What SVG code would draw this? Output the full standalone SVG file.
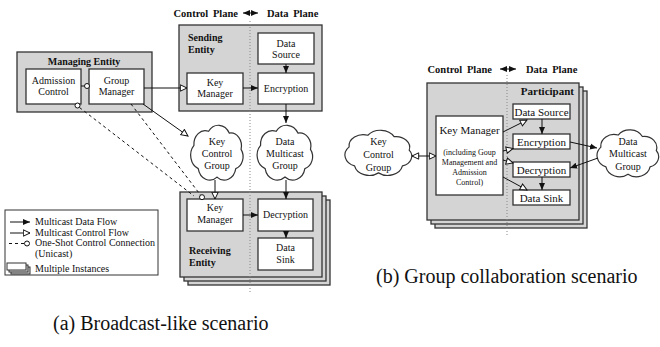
<svg xmlns="http://www.w3.org/2000/svg" width="660" height="347" viewBox="0 0 660 347">
<defs>
<marker id="fa" markerUnits="userSpaceOnUse" markerWidth="8" markerHeight="8" refX="7" refY="3.5" orient="auto-start-reverse">
<path d="M0,0.5 L7,3.5 L0,6.5 z" fill="#111"/>
</marker>
<marker id="oa" markerUnits="userSpaceOnUse" markerWidth="9" markerHeight="9" refX="7.5" refY="4" orient="auto-start-reverse">
<path d="M0.8,0.8 L7.5,4 L0.8,7.2 z" fill="#fff" stroke="#111" stroke-width="1"/>
</marker>
<path id="cloudshape" vector-effect="non-scaling-stroke" fill="#fff" stroke="#333" stroke-width="1.2" d="M -22.6,-6.5 A 11 11 0 0 1 -8.2,-17.9 A 12 12 0 0 1 12,-16.5 A 10.5 10.5 0 0 1 23.6,-3.3 A 10 10 0 0 1 18.4,12.2 A 11.5 11.5 0 0 1 0,19 A 11.5 11.5 0 0 1 -18.4,12.2 A 11.5 11.5 0 0 1 -22.6,-6.5 Z"/>
</defs>

<!-- Headers -->
<g id="header-a" fill="#111">
<text font-family="Liberation Serif" font-size="10.5" font-weight="bold" word-spacing="2" x="238" y="16.5" text-anchor="end">Control Plane</text>
<text font-family="Liberation Serif" font-size="10.5" font-weight="bold" word-spacing="2" x="267" y="16.5">Data Plane</text>
</g>
<g id="header-b" fill="#111">
<text font-family="Liberation Serif" font-size="10.5" font-weight="bold" word-spacing="2" x="492" y="72.5" text-anchor="end">Control Plane</text>
<text font-family="Liberation Serif" font-size="10.5" font-weight="bold" word-spacing="2" x="526" y="72.5">Data Plane</text>
</g>

<!-- (a) Broadcast-like scenario -->
<g id="managing-entity">
<rect x="17" y="52" width="135" height="60" fill="#d4d4d4" stroke="#333" stroke-width="1.3"/>
<text font-family="Liberation Serif" font-size="10" font-weight="bold" fill="#111" x="84" y="65" text-anchor="middle">Managing Entity</text>
</g>
<g id="admission-control">
<rect x="26" y="69" width="55" height="35" fill="#fff" stroke="#333" stroke-width="1.3"/>
<text font-family="Liberation Serif" font-size="10" fill="#111" text-anchor="middle" x="53.5" y="84">Admission</text>
<text font-family="Liberation Serif" font-size="10" fill="#111" text-anchor="middle" x="53.5" y="95">Control</text>
</g>
<g id="group-manager">
<rect x="89" y="69" width="55" height="35" fill="#fff" stroke="#333" stroke-width="1.3"/>
<text font-family="Liberation Serif" font-size="10" fill="#111" text-anchor="middle" x="116.5" y="84">Group</text>
<text font-family="Liberation Serif" font-size="10" fill="#111" text-anchor="middle" x="116.5" y="95">Manager</text>
</g>

<g id="sending-entity">
<rect x="179" y="25" width="143" height="86" fill="#d4d4d4" stroke="#333" stroke-width="1.3"/>
<text font-family="Liberation Serif" font-size="10" font-weight="bold" fill="#111" x="188" y="41">Sending</text>
<text font-family="Liberation Serif" font-size="10" font-weight="bold" fill="#111" x="188" y="53">Entity</text>
</g>
<g id="key-manager-send">
<rect x="187" y="73" width="56" height="31" fill="#fff" stroke="#333" stroke-width="1.3"/>
<text font-family="Liberation Serif" font-size="10" fill="#111" text-anchor="middle" x="215" y="86">Key</text>
<text font-family="Liberation Serif" font-size="10" fill="#111" text-anchor="middle" x="215" y="97">Manager</text>
</g>
<g id="data-source-a">
<rect x="258" y="33" width="56" height="31" fill="#fff" stroke="#333" stroke-width="1.3"/>
<text font-family="Liberation Serif" font-size="10" fill="#111" text-anchor="middle" x="286" y="47">Data</text>
<text font-family="Liberation Serif" font-size="10" fill="#111" text-anchor="middle" x="286" y="58">Source</text>
</g>
<g id="encryption-a">
<rect x="258" y="73" width="56" height="31" fill="#fff" stroke="#333" stroke-width="1.3"/>
<text font-family="Liberation Serif" font-size="10" fill="#111" text-anchor="middle" x="286" y="91.5">Encryption</text>
</g>

<g id="key-control-group-a">
<use href="#cloudshape" transform="translate(217,153.5) scale(1.02,1.24)"/>
<text font-family="Liberation Serif" font-size="10" fill="#111" text-anchor="middle" x="217" y="145">Key</text>
<text font-family="Liberation Serif" font-size="10" fill="#111" text-anchor="middle" x="217" y="157">Control</text>
<text font-family="Liberation Serif" font-size="10" fill="#111" text-anchor="middle" x="217" y="169">Group</text>
</g>
<g id="data-multicast-group-a">
<use href="#cloudshape" transform="translate(285,153.5) scale(1.08,1.24)"/>
<text font-family="Liberation Serif" font-size="10" fill="#111" text-anchor="middle" x="285" y="145">Data</text>
<text font-family="Liberation Serif" font-size="10" fill="#111" text-anchor="middle" x="285" y="157">Multicast</text>
<text font-family="Liberation Serif" font-size="10" fill="#111" text-anchor="middle" x="285" y="169">Group</text>
</g>

<g id="receiving-entity">
<rect x="188" y="200" width="142" height="85" fill="#d4d4d4" stroke="#333" stroke-width="1.3"/>
<rect x="184" y="196" width="142" height="85" fill="#d4d4d4" stroke="#333" stroke-width="1.3"/>
<rect x="180" y="192" width="142" height="85" fill="#d4d4d4" stroke="#333" stroke-width="1.3"/>
<text font-family="Liberation Serif" font-size="10" font-weight="bold" fill="#111" x="189" y="254">Receiving</text>
<text font-family="Liberation Serif" font-size="10" font-weight="bold" fill="#111" x="189" y="266">Entity</text>
</g>
<g id="key-manager-recv">
<rect x="187" y="199" width="56" height="32" fill="#fff" stroke="#333" stroke-width="1.3"/>
<text font-family="Liberation Serif" font-size="10" fill="#111" text-anchor="middle" x="215" y="211">Key</text>
<text font-family="Liberation Serif" font-size="10" fill="#111" text-anchor="middle" x="215" y="223">Manager</text>
</g>
<g id="decryption-a">
<rect x="258" y="199" width="55" height="32" fill="#fff" stroke="#333" stroke-width="1.3"/>
<text font-family="Liberation Serif" font-size="10" fill="#111" text-anchor="middle" x="285.5" y="218">Decryption</text>
</g>
<g id="data-sink-a">
<rect x="258" y="238" width="55" height="32" fill="#fff" stroke="#333" stroke-width="1.3"/>
<text font-family="Liberation Serif" font-size="10" fill="#111" text-anchor="middle" x="285.5" y="251">Data</text>
<text font-family="Liberation Serif" font-size="10" fill="#111" text-anchor="middle" x="285.5" y="263">Sink</text>
</g>

<g id="legend">
<rect x="5" y="210" width="153" height="65" fill="#fff" stroke="#333" stroke-width="1"/>
<line x1="10" y1="222" x2="30" y2="222" stroke="#111" stroke-width="1" marker-end="url(#fa)"/>
<text font-family="Liberation Serif" font-size="10" fill="#111" x="35" y="225">Multicast Data Flow</text>
<line x1="10" y1="233" x2="30" y2="233" stroke="#111" stroke-width="1" marker-end="url(#oa)"/>
<text font-family="Liberation Serif" font-size="10" fill="#111" x="35" y="236">Multicast Control Flow</text>
<line x1="9" y1="243.5" x2="24" y2="243.5" stroke="#111" stroke-width="1" stroke-dasharray="3 3"/>
<circle cx="27" cy="243.5" r="2.5" fill="#fff" stroke="#111" stroke-width="1"/>
<text font-family="Liberation Serif" font-size="10" fill="#111" x="35" y="246">One-Shot Control Connection</text>
<text font-family="Liberation Serif" font-size="10" fill="#111" x="35" y="257">(Unicast)</text>
<rect x="11" y="267" width="19" height="7" fill="#d4d4d4" stroke="#333" stroke-width="1"/>
<rect x="9" y="265" width="19" height="7" fill="#d4d4d4" stroke="#333" stroke-width="1"/>
<rect x="7" y="263" width="19" height="7" fill="#fff" stroke="#333" stroke-width="1"/>
<text font-family="Liberation Serif" font-size="10" fill="#111" x="35" y="272">Multiple Instances</text>
</g>

<!-- (b) Group collaboration scenario -->
<g id="participant">
<rect x="435" y="91" width="152" height="137" fill="#d4d4d4" stroke="#333" stroke-width="1.3"/>
<rect x="431" y="87" width="152" height="137" fill="#d4d4d4" stroke="#333" stroke-width="1.3"/>
<rect x="427" y="83" width="152" height="137" fill="#d4d4d4" stroke="#333" stroke-width="1.3"/>
<text font-family="Liberation Serif" font-size="11" font-weight="bold" fill="#111" x="574" y="95" text-anchor="end">Participant</text>
</g>
<g id="key-manager-b">
<rect x="436" y="116" width="67" height="79" fill="#fff" stroke="#333" stroke-width="1.3"/>
<text font-family="Liberation Serif" font-size="11" fill="#111" text-anchor="middle" x="469.5" y="134">Key Manager</text>
<text font-family="Liberation Serif" font-size="8" fill="#111" text-anchor="middle" x="469.5" y="155">(including Goup</text>
<text font-family="Liberation Serif" font-size="8" fill="#111" text-anchor="middle" x="469.5" y="165">Management and</text>
<text font-family="Liberation Serif" font-size="8" fill="#111" text-anchor="middle" x="469.5" y="175">Admission</text>
<text font-family="Liberation Serif" font-size="8" fill="#111" text-anchor="middle" x="469.5" y="184.5">Control)</text>
</g>
<g id="data-source-b">
<rect x="513" y="104" width="57" height="15" fill="#fff" stroke="#333" stroke-width="1.3"/>
<text font-family="Liberation Serif" font-size="11" fill="#111" text-anchor="middle" x="541.5" y="115.5">Data Source</text>
</g>
<g id="encryption-b">
<rect x="513" y="134" width="57" height="15" fill="#fff" stroke="#333" stroke-width="1.3"/>
<text font-family="Liberation Serif" font-size="11" fill="#111" text-anchor="middle" x="541.5" y="145.5">Encryption</text>
</g>
<g id="decryption-b">
<rect x="513" y="162" width="57" height="15" fill="#fff" stroke="#333" stroke-width="1.3"/>
<text font-family="Liberation Serif" font-size="11" fill="#111" text-anchor="middle" x="541.5" y="173.5">Decryption</text>
</g>
<g id="data-sink-b">
<rect x="513" y="190" width="57" height="15" fill="#fff" stroke="#333" stroke-width="1.3"/>
<text font-family="Liberation Serif" font-size="11" fill="#111" text-anchor="middle" x="541.5" y="201.5">Data Sink</text>
</g>
<g id="key-control-group-b">
<use href="#cloudshape" transform="translate(378.5,153.5) scale(1.3,1.02)"/>
<text font-family="Liberation Serif" font-size="10" fill="#111" text-anchor="middle" x="378.5" y="145">Key</text>
<text font-family="Liberation Serif" font-size="10" fill="#111" text-anchor="middle" x="378.5" y="158">Control</text>
<text font-family="Liberation Serif" font-size="10" fill="#111" text-anchor="middle" x="378.5" y="171">Group</text>
</g>
<g id="data-multicast-group-b">
<use href="#cloudshape" transform="translate(628,154) scale(1.2,1.06)"/>
<text font-family="Liberation Serif" font-size="10" fill="#111" text-anchor="middle" x="628" y="145">Data</text>
<text font-family="Liberation Serif" font-size="10" fill="#111" text-anchor="middle" x="628" y="157">Multicast</text>
<text font-family="Liberation Serif" font-size="10" fill="#111" text-anchor="middle" x="628" y="170">Group</text>
</g>

<!-- plane dividers -->
<g id="dividers" stroke="#888" stroke-width="1" stroke-dasharray="1 2">
<line x1="250" y1="21" x2="250" y2="292"/>
<line x1="507" y1="75" x2="507" y2="236"/>
</g>

<!-- connectors -->
<g id="connectors" stroke="#111" stroke-width="1" fill="none">
<line x1="243" y1="13" x2="258" y2="13" marker-start="url(#fa)" marker-end="url(#fa)"/>
<line x1="500" y1="69" x2="516" y2="69" marker-start="url(#fa)" marker-end="url(#fa)"/>

<line x1="81" y1="86" x2="84.5" y2="86"/>
<circle cx="87" cy="86" r="2.5" fill="#fff"/>
<circle cx="77.5" cy="105.5" r="2.5" fill="#fff"/>
<line x1="79.5" y1="107.5" x2="194" y2="196" stroke-dasharray="3 3"/>
<line x1="131" y1="104" x2="200.5" y2="195" stroke-dasharray="3 3"/>
<circle cx="202" cy="197.2" r="2.5" fill="#fff"/>

<line x1="144" y1="88" x2="187" y2="88" marker-end="url(#oa)"/>
<line x1="143" y1="104" x2="188" y2="136" marker-end="url(#oa)"/>
<line x1="243" y1="88" x2="258" y2="88" marker-end="url(#fa)"/>
<line x1="286" y1="64" x2="286" y2="73" marker-end="url(#fa)"/>
<line x1="286" y1="104" x2="286" y2="123" marker-end="url(#fa)"/>
<line x1="215" y1="180" x2="215" y2="199" marker-end="url(#oa)"/>
<line x1="286" y1="180" x2="286" y2="199" marker-end="url(#fa)"/>
<line x1="243" y1="215" x2="258" y2="215" marker-end="url(#fa)"/>
<line x1="286" y1="231" x2="286" y2="238" marker-end="url(#fa)"/>

<line x1="412" y1="156" x2="436" y2="156" marker-start="url(#oa)" marker-end="url(#oa)"/>
<line x1="503" y1="132" x2="527" y2="120" marker-end="url(#oa)"/>
<line x1="503" y1="151" x2="513" y2="148.5" marker-end="url(#oa)"/>
<line x1="503" y1="160" x2="513" y2="163" marker-end="url(#oa)"/>
<line x1="503" y1="177" x2="527" y2="190" marker-end="url(#oa)"/>
<line x1="542" y1="119" x2="542" y2="134" marker-end="url(#fa)"/>
<line x1="542" y1="177" x2="542" y2="190" marker-end="url(#fa)"/>
<line x1="570" y1="142" x2="597" y2="148" marker-end="url(#fa)"/>
<line x1="598" y1="158" x2="570" y2="168" marker-end="url(#fa)"/>
</g>

<g id="captions" fill="#111">
<text font-family="Liberation Serif" font-size="20" x="53" y="330">(a) Broadcast-like scenario</text>
<text font-family="Liberation Serif" font-size="20" x="376" y="283">(b) Group collaboration scenario</text>
</g>
</svg>
